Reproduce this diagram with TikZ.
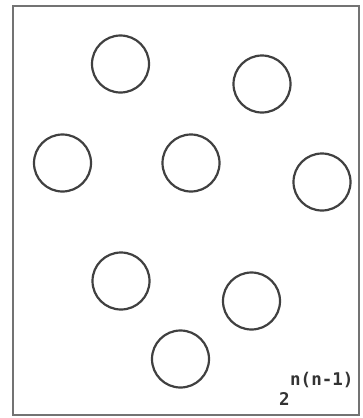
\documentclass[tikz,border=0pt]{standalone}
\usepackage{fontspec}
\newfontfamily\dotfont{DejaVu Sans Mono}
\begin{document}
\begin{tikzpicture}[x=1pt, y=-1pt,
  ring/.style={draw=black!75, line width=2.2pt, circle, minimum size=57pt, inner sep=0pt},
  formula/.style={font=\dotfont\bfseries\fontsize{17.5}{17.5}\selectfont, text=black!80, inner sep=0pt}]
\useasboundingbox (0,0) rectangle (363,418);
\draw[black!55, line width=1.8pt] (13,6) rectangle (359,415);

\node[ring] (c1) at (120.5,64) {};
\node[ring] (c2) at (262,84) {};
\node[ring] (c3) at (62.5,163) {};
\node[ring] (c4) at (191,163) {};
\node[ring] (c5) at (322,182) {};
\node[ring] (c6) at (121,281) {};
\node[ring] (c7) at (251.5,301) {};
\node[ring] (c8) at (180.5,359) {};

\node[formula, anchor=base west] (num) at (290,385) {n(n-1)};
\node[formula, anchor=base west] (den) at (279,405) {2};
\end{tikzpicture}
\end{document}
